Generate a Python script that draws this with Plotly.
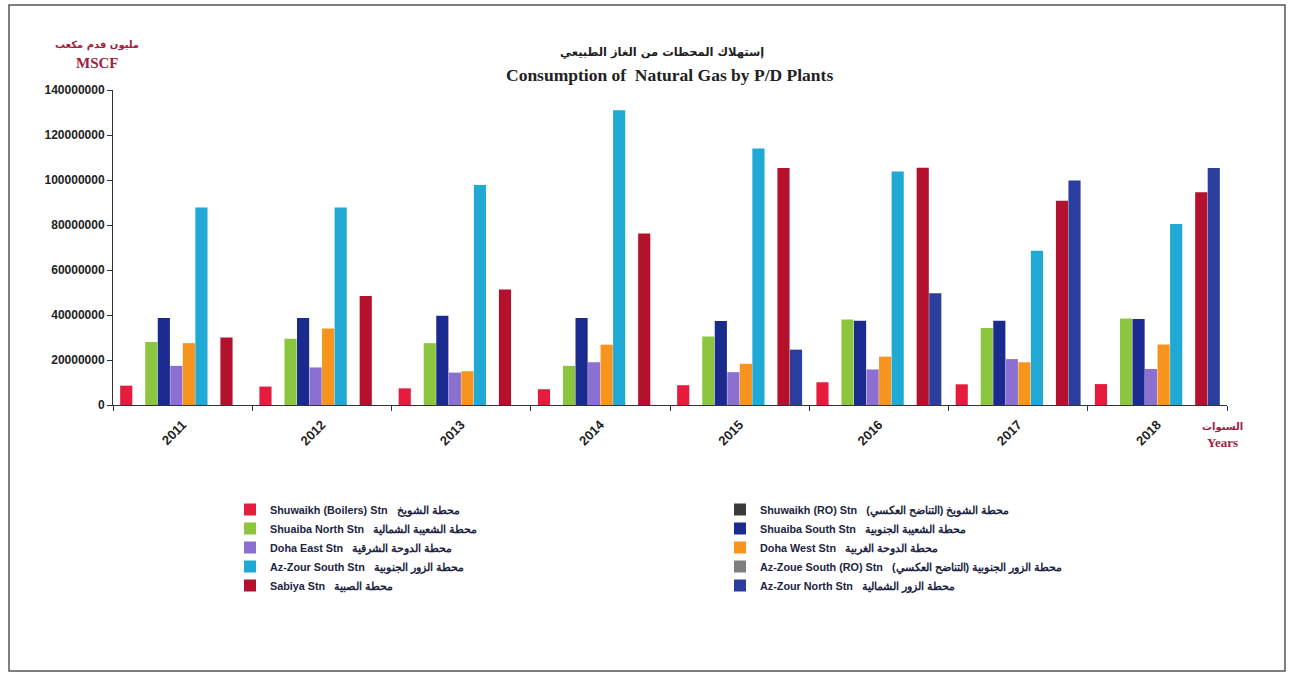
import plotly.graph_objects as go

years = ["2011", "2012", "2013", "2014", "2015", "2016", "2017", "2018"]

series_names = [
    "Shuwaikh (Boilers) Stn   محطة الشويخ",
    "Shuwaikh (RO) Stn   محطة الشويخ (التناضح العكسي)",
    "Shuaiba North Stn   محطة الشعيبة الشمالية",
    "Shuaiba South Stn   محطة الشعيبة الجنوبية",
    "Doha East Stn   محطة الدوحة الشرقية",
    "Doha West Stn   محطة الدوحة الغربية",
    "Az-Zour South Stn   محطة الزور الجنوبية",
    "Az-Zoue South (RO) Stn   محطة الزور الجنوبية (التناضح العكسي)",
    "Sabiya Stn   محطة الصبية",
    "Az-Zour North Stn   محطة الزور الشمالية",
]

shuwaikh_boilers = [8600000, 8200000, 7400000, 7000000, 8800000, 10100000, 9200000, 9300000]
shuwaikh_ro = [0, 0, 0, 0, 0, 0, 0, 0]
shuaiba_north = [28000000, 29500000, 27500000, 17400000, 30500000, 38000000, 34200000, 38400000]
shuaiba_south = [38700000, 38700000, 39700000, 38700000, 37300000, 37500000, 37500000, 38200000]
doha_east = [17400000, 16700000, 14400000, 19000000, 14600000, 15800000, 20400000, 16000000]
doha_west = [27500000, 34000000, 15000000, 26800000, 18300000, 21500000, 19000000, 26900000]
azzour_south = [87800000, 87800000, 97800000, 131000000, 114000000, 103800000, 68600000, 80500000]
azzour_south_ro = [0, 0, 0, 0, 0, 0, 0, 0]
sabiya = [30000000, 48400000, 51300000, 76200000, 105300000, 105500000, 90800000, 94600000]
azzour_north = [0, 0, 0, 0, 24600000, 49700000, 99800000, 105300000]

series_values = [shuwaikh_boilers, shuwaikh_ro, shuaiba_north, shuaiba_south, doha_east,
                 doha_west, azzour_south, azzour_south_ro, sabiya, azzour_north]

colors = ["#e51c3e", "#3a3a3a", "#8cc63f", "#1b2a8f", "#8b6fd1",
          "#f7941d", "#1fa9d4", "#7f7f7f", "#b3112e", "#2b3e9e"]

fig = go.Figure()
for name, vals, col in zip(series_names, series_values, colors):
    fig.add_trace(go.Bar(x=years, y=vals, name=name, marker=dict(color=col, line=dict(width=0))))

L, R, T, B = 113, 62, 90, 268
W, H = 1289, 673
pw, ph = W - L - R, H - T - B

def px(x):
    return (x - L) / pw

def py(y):
    return (H - B - y) / ph

crimson = "#a3203d"
ann = [
    dict(text="إستهلاك المحطات من الغاز الطبيعي", x=px(662), y=py(52),
         font=dict(family="DejaVu Sans", size=11.5, color="#222", weight="bold")),
    dict(text="Consumption of  Natural Gas by P/D Plants", x=px(669), y=py(75),
         font=dict(family="Liberation Serif", size=17.5, color="#222", weight="bold")),
    dict(text="مليون قدم مكعب", x=px(97), y=py(45),
         font=dict(family="DejaVu Sans", size=10, color=crimson, weight="bold")),
    dict(text="MSCF", x=px(97), y=py(63),
         font=dict(family="Liberation Serif", size=15, color=crimson, weight="bold")),
    dict(text="السنوات", x=px(1222), y=py(427),
         font=dict(family="DejaVu Sans", size=10, color=crimson, weight="bold")),
    dict(text="Years", x=px(1222), y=py(442),
         font=dict(family="Liberation Serif", size=13, color=crimson, weight="bold")),
]
for a in ann:
    a.update(xref="paper", yref="paper", showarrow=False, xanchor="center", yanchor="middle")

fig.update_layout(
    width=W, height=H,
    margin=dict(l=L, r=R, t=T, b=B, autoexpand=False),
    paper_bgcolor="white", plot_bgcolor="white",
    barmode="group", bargap=0.1, bargroupgap=0.03,
    font=dict(family="Liberation Sans, Arial", size=11, color="#222", weight="bold"),
    annotations=ann,
    showlegend=True,
    legend=dict(
        orientation="h", x=px(230), y=py(495), xanchor="left", yanchor="top",
        entrywidth=445, itemwidth=30, traceorder="normal",
        font=dict(family="Liberation Sans, Arial", size=10.8, color="#1c2541", weight="bold"),
        bgcolor="rgba(0,0,0,0)",
    ),
    shapes=[dict(type="rect", xref="paper", yref="paper",
                 x0=px(9), x1=px(1285), y0=py(671), y1=py(5),
                 line=dict(color="#555", width=1.5))],
)

fig.update_xaxes(
    type="category", showline=True, linecolor="#333", linewidth=1,
    ticks="outside", tickson="boundaries", ticklen=5, tickcolor="#333",
    tickangle=-45, showgrid=False, ticklabelstandoff=6,
    tickfont=dict(family="Liberation Sans, Arial", size=13, color="#222", weight="bold"),
)
fig.update_yaxes(
    range=[0, 140000000], dtick=20000000, tickformat="d",
    showline=True, linecolor="#333", linewidth=1,
    ticks="outside", ticklen=5, tickcolor="#333", showgrid=False, zeroline=False,
    tickfont=dict(family="Liberation Sans, Arial", size=12, color="#222", weight="bold"),
)

fig.write_html("out.html", config={"displayModeBar": False},
               post_script="document.body.style.margin='0';")
